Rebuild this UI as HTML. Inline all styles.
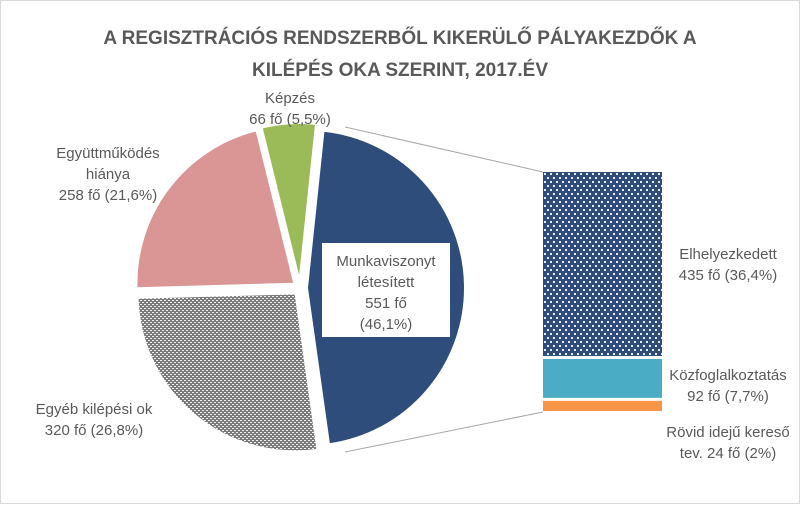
<!DOCTYPE html>
<html><head><meta charset="utf-8"><style>
body{margin:0;background:#fff;}
svg text{font-family:"Liberation Sans",sans-serif;fill:#595959;}
</style></head><body>
<svg id="chart" width="800" height="504" viewBox="0 0 800 504" xmlns="http://www.w3.org/2000/svg">
<defs>
<pattern id="navyDots" width="6" height="8" patternUnits="userSpaceOnUse">
<rect width="6" height="8" fill="#2e4d7b"/><rect x="1" y="1" width="2" height="2" fill="#e8ecf3"/><rect x="4" y="5" width="2" height="2" fill="#e8ecf3"/>
</pattern>
<pattern id="grayChk" width="4" height="4" patternUnits="userSpaceOnUse">
<rect width="4" height="4" fill="#7a7a7a"/><rect x="0" y="0" width="2" height="1" fill="#f2f2f2"/><rect x="2" y="2" width="2" height="1" fill="#f2f2f2"/>
</pattern>
</defs>
<rect x="0.5" y="0.5" width="799" height="503" fill="#fff" stroke="#d9d9d9"/>
<text x="400" y="44" text-anchor="middle" font-size="19" font-weight="bold">A REGISZTRÁCIÓS RENDSZERBŐL KIKERÜLŐ PÁLYAKEZDŐK A</text>
<text x="400" y="76" text-anchor="middle" font-size="19" font-weight="bold">KILÉPÉS OKA SZERINT, 2017.ÉV</text>
<line x1="345" y1="127" x2="543" y2="172" stroke="#a6a6a6"/>
<line x1="345" y1="452" x2="543" y2="412" stroke="#a6a6a6"/>
<g id="pie"></g>
<g id="bar"></g>
<rect x="322" y="243" width="128" height="94" fill="#fff"/>
<g font-size="15">
<text x="386" y="266" text-anchor="middle"><tspan x="386">Munkaviszonyt</tspan><tspan x="386" dy="21">létesített</tspan><tspan x="386" dy="21">551 fő</tspan><tspan x="386" dy="21">(46,1%)</tspan></text>
<text x="290" y="103" text-anchor="middle"><tspan x="290">Képzés</tspan><tspan x="290" dy="21">66 fő (5,5%)</tspan></text>
<text x="108" y="158" text-anchor="middle"><tspan x="108">Együttműködés</tspan><tspan x="108" dy="21">hiánya</tspan><tspan x="108" dy="21">258 fő (21,6%)</tspan></text>
<text x="94" y="414" text-anchor="middle"><tspan x="94">Egyéb kilépési ok</tspan><tspan x="94" dy="21">320 fő (26,8%)</tspan></text>
<text x="728" y="259" text-anchor="middle"><tspan x="728">Elhelyezkedett</tspan><tspan x="728" dy="21">435 fő (36,4%)</tspan></text>
<text x="728" y="380" text-anchor="middle"><tspan x="728">Közfoglalkoztatás</tspan><tspan x="728" dy="21">92 fő (7,7%)</tspan></text>
<text x="728" y="437" text-anchor="middle"><tspan x="728">Rövid idejű kereső</tspan><tspan x="728" dy="21">tev. 24 fő (2%)</tspan></text>
</g>
</svg>
<script>
const pieCategories=["Munkaviszonyt létesített","Egyéb kilépési ok","Együttműködés hiánya","Képzés"];
const pieValues=[551,320,258,66];
const pieFills=["#2e4d7b","url(#grayChk)","#d99694","#9bbb59"];
const barCategories=["Elhelyezkedett","Közfoglalkoztatás","Rövid idejű kereső tev."];
const barValues=[435,92,24];
const barFills=["url(#navyDots)","#4bacc6","#f79646"];
const NS="http://www.w3.org/2000/svg";
const cx=300,cy=288,r=158,startDeg=6,explode=7;
const total=pieValues.reduce((a,b)=>a+b,0);
const pieG=document.getElementById('pie');
let a=startDeg;
pieValues.forEach((v,i)=>{
  const sweep=v/total*360, mid=(a+sweep/2)*Math.PI/180;
  const ox=cx+explode*Math.sin(mid), oy=cy-explode*Math.cos(mid);
  const a0=a*Math.PI/180,a1=(a+sweep)*Math.PI/180;
  const x0=ox+r*Math.sin(a0),y0=oy-r*Math.cos(a0),x1=ox+r*Math.sin(a1),y1=oy-r*Math.cos(a1);
  const p=document.createElementNS(NS,'path');
  p.setAttribute('d',`M${ox},${oy}L${x0},${y0}A${r},${r} 0 ${sweep>180?1:0} 1 ${x1},${y1}Z`);
  p.setAttribute('fill',pieFills[i]);p.setAttribute('stroke','#fff');p.setAttribute('stroke-width','2');
  
  
  pieG.appendChild(p);
  a+=sweep;
});
const barG=document.getElementById('bar');
const bx=543,bw=119,btop=172,bh=239,gap=3;
const btotal=barValues.reduce((x,y)=>x+y,0);
const scale=(bh-gap*(barValues.length-1))/btotal;
let y=btop;
barValues.forEach((v,i)=>{
  const h=v*scale;
  const rc=document.createElementNS(NS,'rect');
  rc.setAttribute('x',bx);rc.setAttribute('y',y);rc.setAttribute('width',bw);rc.setAttribute('height',h);
  rc.setAttribute('fill',barFills[i]);
  
  
  barG.appendChild(rc);
  y+=h+gap;
});
</script>
</body></html>
